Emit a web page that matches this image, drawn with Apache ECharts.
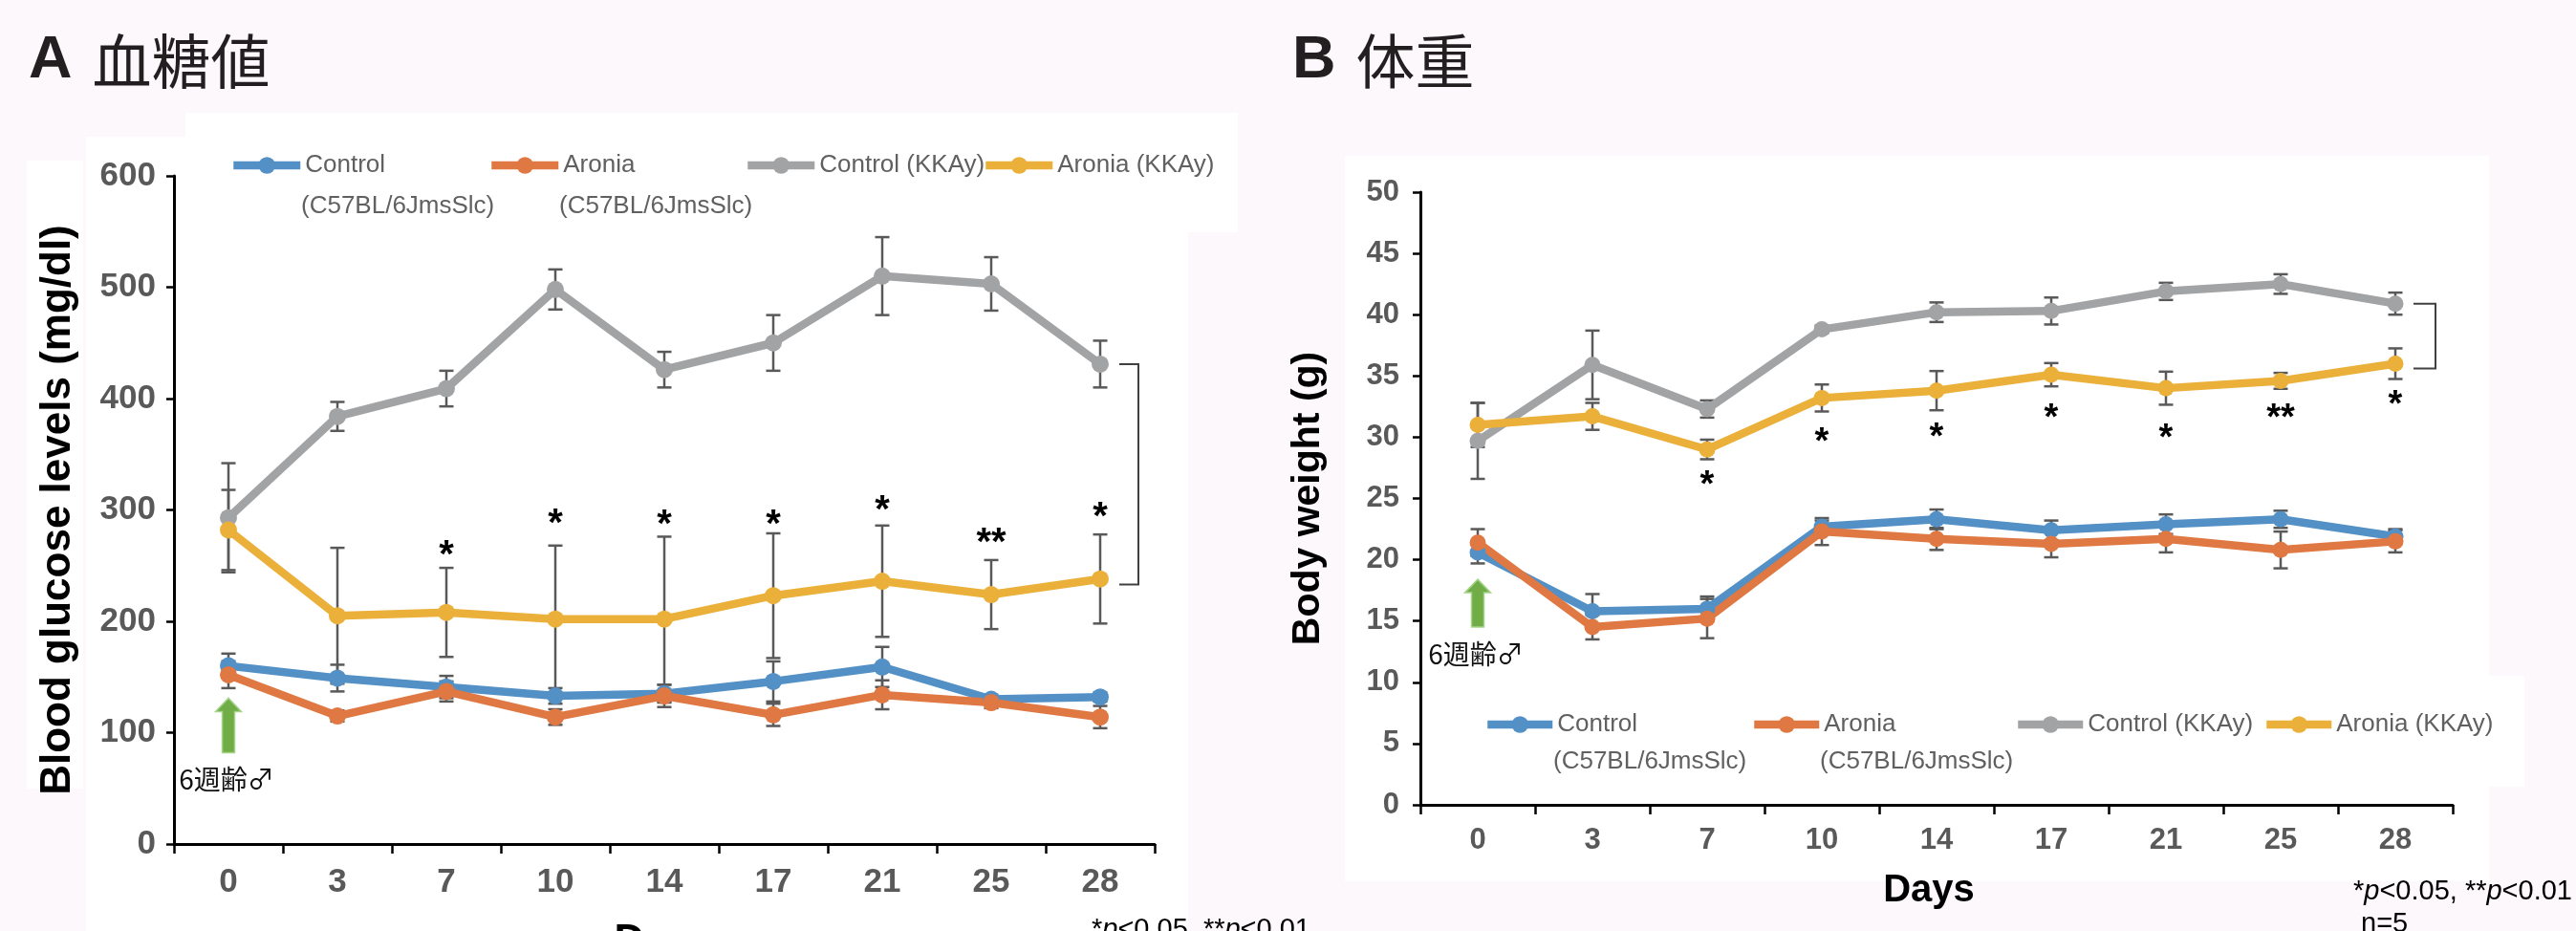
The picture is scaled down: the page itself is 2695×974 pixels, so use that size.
<!DOCTYPE html>
<html><head><meta charset="utf-8">
<script src="https://cdn.jsdelivr.net/npm/echarts@6/dist/echarts.min.js"></script>
<style>html,body{margin:0;padding:0;background:#fdf8fc;} #c{width:2695px;height:974px;}</style>
</head><body><div id="c"></div>
<script>
// ---------- data ----------
const days = ['0','3','7','10','14','17','21','25','28'];
const seriesNames = ['Control', 'Aronia', 'Control (KKAy)', 'Aronia (KKAy)'];
const strainNote = '(C57BL/6JmsSlc)';
const glucoseTicks = {min: 0, max: 600, interval: 100};
const weightTicks = {min: 0, max: 50, interval: 5};

// A: blood glucose (mg/dl), mean and error
const glucCtrlB6 = [160, 149, 141, 133, 135, 146, 159, 130, 132];
const glucCtrlB6Err = [11, 12, 10, 7, 8, 18, 18, 4, 4];
const glucAroB6 = [152, 115, 137, 114, 133, 116, 134, 127, 114];
const glucAroB6Err = [12, 5, 9, 7, 10, 10, 13, 5, 10];
const glucCtrlKK = [293, 384, 409, 498, 426, 450, 510, 503, 431];
const glucCtrlKKErr = [49, 13, 16, 18, 16, 25, 35, 24, 21];
const glucAroKK = [282, 205, 208, 202, 202, 223, 236, 224, 238];
const glucAroKKErr = [36, 61, 40, 66, 74, 56, 50, 31, 40];
const glucStars = ['', '', '*', '*', '*', '*', '*', '**', '*'];
const glucStarY = [null, null, 266, 294, 293, 293, 306, 277, 300];

// B: body weight (g)
const wtCtrlB6 = [20.6, 15.8, 16.0, 22.7, 23.3, 22.4, 22.9, 23.3, 21.9];
const wtCtrlB6Err = [0.9, 1.4, 1.0, 0.5, 0.8, 0.8, 0.8, 0.7, 0.6];
const wtAroB6 = [21.4, 14.5, 15.2, 22.3, 21.7, 21.3, 21.7, 20.8, 21.5];
const wtAroB6Err = [1.1, 1.0, 1.6, 1.1, 0.9, 1.1, 1.1, 1.5, 0.9];
const wtCtrlKK = [29.7, 35.9, 32.3, 38.8, 40.2, 40.3, 41.9, 42.5, 40.9];
const wtCtrlKKErr = [3.1, 2.8, 0.7, 0.3, 0.8, 1.1, 0.7, 0.8, 0.9];
const wtAroKK = [31.0, 31.7, 29.0, 33.2, 33.8, 35.1, 34.0, 34.6, 36.0];
const wtAroKKErr = [1.8, 1.1, 0.8, 1.1, 1.6, 0.95, 1.35, 0.65, 1.25];
const wtStars = ['', '', '*', '*', '*', '*', '*', '**', '*'];
const wtStarY = [null, null, 26.7, 30.2, 30.6, 32.1, 30.5, 32.1, 33.2];

// start marker (arrow tip / base values at day 0)
const glucArrow = [131, 82];
const wtArrow = [18.4, 14.5];
const startNote = '6週齢♂';

// ---------- styles ----------
const colors = ['#5390c6', '#df7842', '#a2a3a5', '#ebb03a'];
const sans = "'Liberation Sans',Arial,sans-serif";
const cjk = "'Noto Sans CJK JP','Liberation Sans',sans-serif";
const tickGray = '#595959';

function lineSeries(name, data, gi, ci, sym) {
  return {
    type: 'line', name, data, xAxisIndex: gi, yAxisIndex: gi,
    symbol: 'circle', symbolSize: sym, z: 3,
    lineStyle: {color: colors[ci], width: 8.5},
    itemStyle: {color: colors[ci]},
    emphasis: {disabled: true}, animation: false
  };
}
function errSeries(gi, vals, errs) {
  return {
    type: 'custom', xAxisIndex: gi, yAxisIndex: gi, z: 2, silent: true, animation: false,
    data: vals.map((v, i) => [i, v, errs[i]]),
    renderItem(p, api) {
      const i = api.value(0), v = api.value(1), e = api.value(2);
      const t = api.coord([i, v + e]), b = api.coord([i, v - e]);
      const hw = 7.5, st = {stroke: '#595959', lineWidth: 2.5};
      return {type: 'group', children: [
        {type: 'line', shape: {x1: t[0], y1: t[1], x2: b[0], y2: b[1]}, style: st},
        {type: 'line', shape: {x1: t[0] - hw, y1: t[1], x2: t[0] + hw, y2: t[1]}, style: st},
        {type: 'line', shape: {x1: b[0] - hw, y1: b[1], x2: b[0] + hw, y2: b[1]}, style: st}
      ]};
    }
  };
}
function starSeries(gi, ys, txt, fs) {
  const pts = ys.map((v, i) => [i, v]).filter(d => d[1] != null);
  return {
    type: 'custom', xAxisIndex: gi, yAxisIndex: gi, z: 5, silent: true, animation: false,
    data: pts,
    renderItem(p, api) {
      const c = api.coord([api.value(0), api.value(1)]);
      const s = txt[pts[p.dataIndex][0]];
      return {type: 'text', style: {text: s, x: c[0], y: c[1] + fs * 0.22, textAlign: 'center',
        textVerticalAlign: 'middle', font: 'bold ' + fs + 'px ' + sans, fill: '#000'}};
    }
  };
}
function bracketSeries(gi, topVal, botVal, o1, o2) {
  return {
    type: 'custom', xAxisIndex: gi, yAxisIndex: gi, z: 2, silent: true, animation: false,
    data: [[days.length - 1, topVal, botVal]],
    renderItem(p, api) {
      const a = api.coord([api.value(0), api.value(1)]);
      const b = api.coord([api.value(0), api.value(2)]);
      return {type: 'polyline', shape: {points: [[a[0] + o1, a[1]], [a[0] + o2, a[1]], [a[0] + o2, b[1]], [a[0] + o1, b[1]]]},
        style: {stroke: '#404040', lineWidth: 2, fill: null}};
    }
  };
}
function arrowSeries(gi, arr) {
  return {
    type: 'custom', xAxisIndex: gi, yAxisIndex: gi, z: 4, silent: true, animation: false,
    data: [[0, arr[0], arr[1]]],
    renderItem(p, api) {
      const t = api.coord([api.value(0), api.value(1)]);
      const b = api.coord([api.value(0), api.value(2)]);
      const x = t[0], yt = t[1], yb = b[1], hh = 14;
      return {type: 'group', children: [
        {type: 'polygon', shape: {points: [[x, yt], [x + 13.5, yt + hh], [x + 6.5, yt + hh], [x + 6.5, yb], [x - 6.5, yb], [x - 6.5, yt + hh], [x - 13.5, yt + hh]]},
          style: {fill: '#70ad47', stroke: '#a6d38a', lineWidth: 1.5}},
        {type: 'text', style: {text: startNote, x: x - 2, y: yb + 28, textAlign: 'center', textVerticalAlign: 'middle',
          font: '28px ' + cjk, fill: '#111'}}
      ]};
    }
  };
}
function legendAt(name, textLeft, top, w) {
  return {data: [name], left: textLeft - w - 5, top, padding: 0, itemWidth: w, itemHeight: 22, selectedMode: false,
    lineStyle: {width: 'inherit'},
    textStyle: {fontFamily: sans, fontSize: 26, color: '#606060', lineHeight: 30}};
}
function xAx(gi, fs, margin, nameFs, nameGap, namePad) {
  return {type: 'category', gridIndex: gi, data: days, boundaryGap: true,
    axisLine: {lineStyle: {color: '#000', width: 3}},
    axisTick: {show: true, length: 10, lineStyle: {color: '#000', width: 2.5}},
    axisLabel: {margin, fontSize: fs, fontWeight: 'bold', fontFamily: sans, color: tickGray},
    splitLine: {show: false},
    name: 'Days', nameLocation: 'middle', nameGap,
    nameTextStyle: {fontSize: nameFs, fontWeight: 'bold', fontFamily: sans, color: '#000', padding: namePad}};
}
function yAx(gi, t, fs, margin, name, nameFs, nameGap) {
  return {type: 'value', gridIndex: gi, min: t.min, max: t.max, interval: t.interval,
    axisLine: {show: true, lineStyle: {color: '#000', width: 3}},
    axisTick: {show: true, length: 8, lineStyle: {color: '#000', width: 2.5}},
    axisLabel: {margin, fontSize: fs, fontWeight: 'bold', fontFamily: sans, color: tickGray},
    splitLine: {show: false},
    name, nameLocation: 'middle', nameRotate: 90, nameGap,
    nameTextStyle: {fontSize: nameFs, fontWeight: 'bold', fontFamily: sans, color: '#000'}};
}
function plainText(text, x, y, font, fill, align) {
  return {type: 'text', z: 10, style: {text, x, y, font, fill: fill || '#000', textAlign: align || 'left', textVerticalAlign: 'middle'}};
}
function pNote(x, y) {
  return {type: 'text', z: 10, style: {x, y, textVerticalAlign: 'middle',
    text: '{n|*}{i|p}{n|<0.05, **}{i|p}{n|<0.01}',
    rich: {n: {fontSize: 29, fontFamily: sans, fill: '#000'}, i: {fontSize: 29, fontFamily: sans, fontStyle: 'italic', fill: '#000'}}}};
}
function title(letter, word, x) {
  return {type: 'text', z: 10, style: {x, y: 64, textVerticalAlign: 'middle', text: '{a|' + letter + '}{s|}{b|' + word + '}',
    rich: {a: {fontSize: 63, fontWeight: 'bold', fontFamily: sans, fill: '#231f20'},
           s: {width: 21},
           b: {fontSize: 62, fontFamily: cjk, fill: '#231f20'}}}};
}

const chart = echarts.init(document.getElementById('c'), null, {renderer: 'canvas'});
chart.setOption({
  backgroundColor: '#fdf8fc',
  animation: false,
  grid: [
    {left: 182, top: 184, width: 1026, height: 699, outerBoundsMode: 'none', containLabel: false},
    {left: 1486, top: 201, width: 1080, height: 641, outerBoundsMode: 'none', containLabel: false}
  ],
  xAxis: [xAx(0, 35, 23, 44, 81, 0), xAx(1, 31, 22, 40, 70, [0, 16, 0, 0])],
  yAxis: [
    yAx(0, glucoseTicks, 35, 19, 'Blood glucose levels (mg/dl)', 44, 99),
    yAx(1, weightTicks, 31, 22, 'Body weight (g)', 41, 97)
  ],
  legend: [
    legendAt(seriesNames[0], 315, 158, 70), legendAt(seriesNames[1], 585, 158, 70),
    legendAt(seriesNames[2], 853, 158, 70), legendAt(seriesNames[3], 1102, 158, 70),
    legendAt(seriesNames[0], 1625, 743, 68), legendAt(seriesNames[1], 1904, 743, 68),
    legendAt(seriesNames[2], 2180, 743, 68), legendAt(seriesNames[3], 2440, 743, 68)
  ],
  graphic: [
    // white panels
    {type: 'rect', z: -10, shape: {x: 90, y: 143, width: 1153, height: 831}, style: {fill: '#fff'}},
    {type: 'rect', z: -10, shape: {x: 194, y: 118, width: 1101, height: 125}, style: {fill: '#fff'}},
    {type: 'rect', z: -10, shape: {x: 28, y: 168, width: 59, height: 657}, style: {fill: '#fff'}},
    {type: 'rect', z: -10, shape: {x: 1407, y: 163, width: 1197, height: 759}, style: {fill: '#fff'}},
    {type: 'rect', z: -10, shape: {x: 1407, y: 707, width: 1234, height: 116}, style: {fill: '#fff'}},
    // titles
    title('A', '血糖値', 30),
    title('B', '体重', 1352),
    // legend second lines
    plainText(strainNote, 315, 216, '26px ' + sans, '#606060'),
    plainText(strainNote, 585, 216, '26px ' + sans, '#606060'),
    plainText(strainNote, 1625, 797, '26px ' + sans, '#606060'),
    plainText(strainNote, 1904, 797, '26px ' + sans, '#606060'),
    // footnotes
    pNote(1142, 973),
    pNote(2462, 933),
    plainText('n=5', 2470, 967, '29px ' + sans, '#000')
  ],
  series: [
    errSeries(0, glucCtrlB6, glucCtrlB6Err), errSeries(0, glucAroB6, glucAroB6Err),
    errSeries(0, glucCtrlKK, glucCtrlKKErr), errSeries(0, glucAroKK, glucAroKKErr),
    lineSeries(seriesNames[0], glucCtrlB6, 0, 0, 18), lineSeries(seriesNames[1], glucAroB6, 0, 1, 18),
    lineSeries(seriesNames[2], glucCtrlKK, 0, 2, 18), lineSeries(seriesNames[3], glucAroKK, 0, 3, 18),
    starSeries(0, glucStarY, glucStars, 40),
    bracketSeries(0, glucCtrlKK[8], 233, 20, 40),
    arrowSeries(0, glucArrow),

    errSeries(1, wtCtrlB6, wtCtrlB6Err), errSeries(1, wtAroB6, wtAroB6Err),
    errSeries(1, wtCtrlKK, wtCtrlKKErr), errSeries(1, wtAroKK, wtAroKKErr),
    lineSeries(seriesNames[0], wtCtrlB6, 1, 0, 17), lineSeries(seriesNames[1], wtAroB6, 1, 1, 17),
    lineSeries(seriesNames[2], wtCtrlKK, 1, 2, 17), lineSeries(seriesNames[3], wtAroKK, 1, 3, 17),
    starSeries(1, wtStarY, wtStars, 38),
    bracketSeries(1, wtCtrlKK[8], wtAroKK[8] - 0.4, 19, 42),
    arrowSeries(1, wtArrow)
  ]
});
</script></body></html>
